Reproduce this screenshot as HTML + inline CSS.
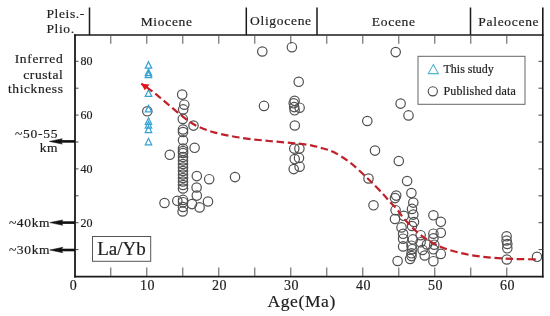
<!DOCTYPE html>
<html><head><meta charset="utf-8"><style>
html,body{margin:0;padding:0;background:#fff;width:550px;height:316px;overflow:hidden}
svg{display:block;filter:blur(0.3px)}
</style></head><body>
<svg width="550" height="316" viewBox="0 0 550 316">
<line x1="89.5" y1="7.5" x2="89.5" y2="35" stroke="#1a1a1a" stroke-width="1.5"/>
<line x1="246.3" y1="7.5" x2="246.3" y2="35" stroke="#1a1a1a" stroke-width="1.5"/>
<line x1="317" y1="7.5" x2="317" y2="35" stroke="#1a1a1a" stroke-width="1.5"/>
<line x1="470.5" y1="7.5" x2="470.5" y2="35" stroke="#1a1a1a" stroke-width="1.5"/>
<line x1="542.8" y1="7.5" x2="542.8" y2="277.5" stroke="#1a1a1a" stroke-width="1.6"/>
<line x1="74" y1="35" x2="543.6" y2="35" stroke="#1a1a1a" stroke-width="1.7"/>
<line x1="75" y1="34.2" x2="75" y2="277.5" stroke="#1a1a1a" stroke-width="1.8"/>
<line x1="74.1" y1="276.6" x2="543.6" y2="276.6" stroke="#1a1a1a" stroke-width="1.9"/>
<line x1="110.8" y1="35.5" x2="110.8" y2="43.8" stroke="#555" stroke-width="1"/>
<line x1="110.8" y1="267.5" x2="110.8" y2="276" stroke="#555" stroke-width="1"/>
<line x1="146.8" y1="35.5" x2="146.8" y2="43.8" stroke="#555" stroke-width="1"/>
<line x1="146.8" y1="267.5" x2="146.8" y2="276" stroke="#555" stroke-width="1"/>
<line x1="182.8" y1="35.5" x2="182.8" y2="43.8" stroke="#555" stroke-width="1"/>
<line x1="182.8" y1="267.5" x2="182.8" y2="276" stroke="#555" stroke-width="1"/>
<line x1="218.8" y1="35.5" x2="218.8" y2="43.8" stroke="#555" stroke-width="1"/>
<line x1="218.8" y1="267.5" x2="218.8" y2="276" stroke="#555" stroke-width="1"/>
<line x1="254.8" y1="35.5" x2="254.8" y2="43.8" stroke="#555" stroke-width="1"/>
<line x1="254.8" y1="267.5" x2="254.8" y2="276" stroke="#555" stroke-width="1"/>
<line x1="290.8" y1="35.5" x2="290.8" y2="43.8" stroke="#555" stroke-width="1"/>
<line x1="290.8" y1="267.5" x2="290.8" y2="276" stroke="#555" stroke-width="1"/>
<line x1="326.8" y1="35.5" x2="326.8" y2="43.8" stroke="#555" stroke-width="1"/>
<line x1="326.8" y1="267.5" x2="326.8" y2="276" stroke="#555" stroke-width="1"/>
<line x1="362.8" y1="35.5" x2="362.8" y2="43.8" stroke="#555" stroke-width="1"/>
<line x1="362.8" y1="267.5" x2="362.8" y2="276" stroke="#555" stroke-width="1"/>
<line x1="398.8" y1="35.5" x2="398.8" y2="43.8" stroke="#555" stroke-width="1"/>
<line x1="398.8" y1="267.5" x2="398.8" y2="276" stroke="#555" stroke-width="1"/>
<line x1="434.8" y1="35.5" x2="434.8" y2="43.8" stroke="#555" stroke-width="1"/>
<line x1="434.8" y1="267.5" x2="434.8" y2="276" stroke="#555" stroke-width="1"/>
<line x1="470.8" y1="35.5" x2="470.8" y2="43.8" stroke="#555" stroke-width="1"/>
<line x1="470.8" y1="267.5" x2="470.8" y2="276" stroke="#555" stroke-width="1"/>
<line x1="506.8" y1="35.5" x2="506.8" y2="43.8" stroke="#555" stroke-width="1"/>
<line x1="506.8" y1="267.5" x2="506.8" y2="276" stroke="#555" stroke-width="1"/>
<line x1="75.5" y1="249.6" x2="78.5" y2="249.6" stroke="#333" stroke-width="0.9"/>
<line x1="538.5" y1="249.6" x2="542" y2="249.6" stroke="#333" stroke-width="0.9"/>
<line x1="75.5" y1="222.7" x2="78.5" y2="222.7" stroke="#333" stroke-width="0.9"/>
<line x1="538.5" y1="222.7" x2="542" y2="222.7" stroke="#333" stroke-width="0.9"/>
<line x1="75.5" y1="195.8" x2="78.5" y2="195.8" stroke="#333" stroke-width="0.9"/>
<line x1="538.5" y1="195.8" x2="542" y2="195.8" stroke="#333" stroke-width="0.9"/>
<line x1="75.5" y1="168.9" x2="78.5" y2="168.9" stroke="#333" stroke-width="0.9"/>
<line x1="538.5" y1="168.9" x2="542" y2="168.9" stroke="#333" stroke-width="0.9"/>
<line x1="75.5" y1="142.0" x2="78.5" y2="142.0" stroke="#333" stroke-width="0.9"/>
<line x1="538.5" y1="142.0" x2="542" y2="142.0" stroke="#333" stroke-width="0.9"/>
<line x1="75.5" y1="115.1" x2="78.5" y2="115.1" stroke="#333" stroke-width="0.9"/>
<line x1="538.5" y1="115.1" x2="542" y2="115.1" stroke="#333" stroke-width="0.9"/>
<line x1="75.5" y1="88.2" x2="78.5" y2="88.2" stroke="#333" stroke-width="0.9"/>
<line x1="538.5" y1="88.2" x2="542" y2="88.2" stroke="#333" stroke-width="0.9"/>
<line x1="75.5" y1="61.3" x2="78.5" y2="61.3" stroke="#333" stroke-width="0.9"/>
<line x1="538.5" y1="61.3" x2="542" y2="61.3" stroke="#333" stroke-width="0.9"/>
<text x="46.5" y="18.2" font-family="Liberation Serif, serif" fill="#1e1e1e" stroke="#1e1e1e" stroke-width="0.2" font-size="13.5" letter-spacing="0.6">Pleis.-</text>
<text x="46.5" y="32.9" font-family="Liberation Serif, serif" fill="#1e1e1e" stroke="#1e1e1e" stroke-width="0.2" font-size="13.5" letter-spacing="0.6">Plio.</text>
<text x="166.7" y="25.9" font-family="Liberation Serif, serif" fill="#1e1e1e" stroke="#1e1e1e" stroke-width="0.2" font-size="13.5" letter-spacing="0.7" text-anchor="middle">Miocene</text>
<text x="280.9" y="24.8" font-family="Liberation Serif, serif" fill="#1e1e1e" stroke="#1e1e1e" stroke-width="0.2" font-size="13.5" letter-spacing="0.7" text-anchor="middle">Oligocene</text>
<text x="393.8" y="25.9" font-family="Liberation Serif, serif" fill="#1e1e1e" stroke="#1e1e1e" stroke-width="0.2" font-size="13.5" letter-spacing="0.7" text-anchor="middle">Eocene</text>
<text x="508.8" y="25.9" font-family="Liberation Serif, serif" fill="#1e1e1e" stroke="#1e1e1e" stroke-width="0.2" font-size="13.5" letter-spacing="0.7" text-anchor="middle">Paleocene</text>
<text x="63.4" y="63" font-family="Liberation Serif, serif" fill="#1e1e1e" stroke="#1e1e1e" stroke-width="0.2" font-size="13.5" letter-spacing="0.65" text-anchor="end">Inferred</text>
<text x="63.4" y="78.5" font-family="Liberation Serif, serif" fill="#1e1e1e" stroke="#1e1e1e" stroke-width="0.2" font-size="13.5" letter-spacing="0.6" text-anchor="end">crustal</text>
<text x="63.6" y="92.7" font-family="Liberation Serif, serif" fill="#1e1e1e" stroke="#1e1e1e" stroke-width="0.2" font-size="13.5" letter-spacing="0.6" text-anchor="end">thickness</text>
<text x="58.2" y="137.8" font-family="Liberation Serif, serif" fill="#1e1e1e" stroke="#1e1e1e" stroke-width="0.2" font-size="13.5" letter-spacing="0.75" text-anchor="end">~50-55</text>
<text x="58" y="151.8" font-family="Liberation Serif, serif" fill="#1e1e1e" stroke="#1e1e1e" stroke-width="0.2" font-size="13.5" letter-spacing="0.5" text-anchor="end">km</text>
<text x="50.2" y="226.7" font-family="Liberation Serif, serif" fill="#1e1e1e" stroke="#1e1e1e" stroke-width="0.2" font-size="13.5" letter-spacing="0.65" text-anchor="end">~40km</text>
<text x="50.2" y="254.4" font-family="Liberation Serif, serif" fill="#1e1e1e" stroke="#1e1e1e" stroke-width="0.2" font-size="13.5" letter-spacing="0.65" text-anchor="end">~30km</text>
<text x="80.5" y="226.5" font-family="Liberation Serif, serif" fill="#1e1e1e" stroke="#1e1e1e" stroke-width="0.2" font-size="12">20</text>
<text x="80.5" y="172.7" font-family="Liberation Serif, serif" fill="#1e1e1e" stroke="#1e1e1e" stroke-width="0.2" font-size="12">40</text>
<text x="80.5" y="118.9" font-family="Liberation Serif, serif" fill="#1e1e1e" stroke="#1e1e1e" stroke-width="0.2" font-size="12">60</text>
<text x="80.5" y="65.1" font-family="Liberation Serif, serif" fill="#1e1e1e" stroke="#1e1e1e" stroke-width="0.2" font-size="12">80</text>
<text x="73.4" y="289.6" font-family="Liberation Serif, serif" fill="#1e1e1e" stroke="#1e1e1e" stroke-width="0.2" font-size="14" letter-spacing="0.3" text-anchor="middle">0</text>
<text x="147.4" y="289.6" font-family="Liberation Serif, serif" fill="#1e1e1e" stroke="#1e1e1e" stroke-width="0.2" font-size="14" letter-spacing="0.3" text-anchor="middle">10</text>
<text x="219.4" y="289.6" font-family="Liberation Serif, serif" fill="#1e1e1e" stroke="#1e1e1e" stroke-width="0.2" font-size="14" letter-spacing="0.3" text-anchor="middle">20</text>
<text x="291.4" y="289.6" font-family="Liberation Serif, serif" fill="#1e1e1e" stroke="#1e1e1e" stroke-width="0.2" font-size="14" letter-spacing="0.3" text-anchor="middle">30</text>
<text x="363.4" y="289.6" font-family="Liberation Serif, serif" fill="#1e1e1e" stroke="#1e1e1e" stroke-width="0.2" font-size="14" letter-spacing="0.3" text-anchor="middle">40</text>
<text x="435.4" y="289.6" font-family="Liberation Serif, serif" fill="#1e1e1e" stroke="#1e1e1e" stroke-width="0.2" font-size="14" letter-spacing="0.3" text-anchor="middle">50</text>
<text x="507.4" y="289.6" font-family="Liberation Serif, serif" fill="#1e1e1e" stroke="#1e1e1e" stroke-width="0.2" font-size="14" letter-spacing="0.3" text-anchor="middle">60</text>
<text x="301.7" y="306.6" font-family="Liberation Serif, serif" fill="#1e1e1e" stroke="#1e1e1e" stroke-width="0.2" font-size="17.5" letter-spacing="0.6" text-anchor="middle">Age(Ma)</text>
<line x1="59.3" y1="141.4" x2="75" y2="141.4" stroke="#111" stroke-width="2.6"/><path d="M49.3,141.4 L62.3,138.70000000000002 L60.599999999999994,141.4 L62.3,144.1 Z" fill="#111" stroke="#111" stroke-width="0.5" stroke-linejoin="round"/>
<line x1="59.8" y1="222.6" x2="75" y2="222.6" stroke="#111" stroke-width="2.6"/><path d="M49.8,222.6 L62.8,219.9 L61.099999999999994,222.6 L62.8,225.29999999999998 Z" fill="#111" stroke="#111" stroke-width="0.5" stroke-linejoin="round"/>
<line x1="59.8" y1="250.0" x2="75" y2="250.0" stroke="#111" stroke-width="2.6"/><path d="M49.8,250.0 L62.8,247.3 L61.099999999999994,250.0 L62.8,252.7 Z" fill="#111" stroke="#111" stroke-width="0.5" stroke-linejoin="round"/>
<rect x="92.5" y="236.5" width="58.2" height="24.8" fill="#fff" stroke="#555" stroke-width="1"/>
<text x="121.5" y="254.8" font-family="Liberation Serif, serif" fill="#1e1e1e" stroke="#1e1e1e" stroke-width="0.2" font-size="19" text-anchor="middle">La/Yb</text>
<rect x="418" y="56.3" width="107" height="48" fill="#fff" stroke="#666" stroke-width="1"/>
<path d="M433.3,64.6 L438.3,73.6 L428.3,73.6 Z" fill="none" stroke="#4fb3c9" stroke-width="1.1"/>
<circle cx="432.8" cy="91.3" r="4.6" fill="none" stroke="#444" stroke-width="1.1"/>
<text x="443.5" y="72.7" font-family="Liberation Serif, serif" fill="#1e1e1e" stroke="#1e1e1e" stroke-width="0.2" font-size="12" letter-spacing="0">This study</text>
<text x="443.5" y="95.1" font-family="Liberation Serif, serif" fill="#1e1e1e" stroke="#1e1e1e" stroke-width="0.2" font-size="12" letter-spacing="0.15">Published data</text>
<circle cx="147.3" cy="111.3" r="4.7" fill="none" stroke="#505050" stroke-width="1.2"/>
<circle cx="182.2" cy="94.6" r="4.7" fill="none" stroke="#505050" stroke-width="1.2"/>
<circle cx="184.3" cy="104.7" r="4.7" fill="none" stroke="#505050" stroke-width="1.2"/>
<circle cx="183.2" cy="109.4" r="4.7" fill="none" stroke="#505050" stroke-width="1.2"/>
<circle cx="182.8" cy="118.9" r="4.7" fill="none" stroke="#505050" stroke-width="1.2"/>
<circle cx="193.5" cy="125.6" r="4.7" fill="none" stroke="#505050" stroke-width="1.2"/>
<circle cx="183.0" cy="129.5" r="4.7" fill="none" stroke="#505050" stroke-width="1.2"/>
<circle cx="183.0" cy="132.0" r="4.7" fill="none" stroke="#505050" stroke-width="1.2"/>
<circle cx="183.0" cy="140.3" r="4.7" fill="none" stroke="#505050" stroke-width="1.2"/>
<circle cx="183.0" cy="148.5" r="4.7" fill="none" stroke="#505050" stroke-width="1.2"/>
<circle cx="183.0" cy="151.0" r="4.7" fill="none" stroke="#505050" stroke-width="1.2"/>
<circle cx="183.0" cy="153.0" r="4.7" fill="none" stroke="#505050" stroke-width="1.2"/>
<circle cx="183.0" cy="157.0" r="4.7" fill="none" stroke="#505050" stroke-width="1.2"/>
<circle cx="183.0" cy="160.5" r="4.7" fill="none" stroke="#505050" stroke-width="1.2"/>
<circle cx="183.0" cy="164.0" r="4.7" fill="none" stroke="#505050" stroke-width="1.2"/>
<circle cx="183.0" cy="167.5" r="4.7" fill="none" stroke="#505050" stroke-width="1.2"/>
<circle cx="183.0" cy="171.0" r="4.7" fill="none" stroke="#505050" stroke-width="1.2"/>
<circle cx="183.0" cy="174.5" r="4.7" fill="none" stroke="#505050" stroke-width="1.2"/>
<circle cx="183.0" cy="178.0" r="4.7" fill="none" stroke="#505050" stroke-width="1.2"/>
<circle cx="183.0" cy="181.5" r="4.7" fill="none" stroke="#505050" stroke-width="1.2"/>
<circle cx="183.0" cy="185.0" r="4.7" fill="none" stroke="#505050" stroke-width="1.2"/>
<circle cx="183.0" cy="188.5" r="4.7" fill="none" stroke="#505050" stroke-width="1.2"/>
<circle cx="194.6" cy="147.8" r="4.7" fill="none" stroke="#505050" stroke-width="1.2"/>
<circle cx="169.8" cy="154.8" r="4.7" fill="none" stroke="#505050" stroke-width="1.2"/>
<circle cx="164.5" cy="203.0" r="4.7" fill="none" stroke="#505050" stroke-width="1.2"/>
<circle cx="177.3" cy="200.8" r="4.7" fill="none" stroke="#505050" stroke-width="1.2"/>
<circle cx="183.0" cy="199.9" r="4.7" fill="none" stroke="#505050" stroke-width="1.2"/>
<circle cx="183.0" cy="202.2" r="4.7" fill="none" stroke="#505050" stroke-width="1.2"/>
<circle cx="183.0" cy="207.0" r="4.7" fill="none" stroke="#505050" stroke-width="1.2"/>
<circle cx="182.6" cy="211.5" r="4.7" fill="none" stroke="#505050" stroke-width="1.2"/>
<circle cx="192.0" cy="204.1" r="4.7" fill="none" stroke="#505050" stroke-width="1.2"/>
<circle cx="196.8" cy="195.6" r="4.7" fill="none" stroke="#505050" stroke-width="1.2"/>
<circle cx="196.6" cy="187.5" r="4.7" fill="none" stroke="#505050" stroke-width="1.2"/>
<circle cx="196.8" cy="176.1" r="4.7" fill="none" stroke="#505050" stroke-width="1.2"/>
<circle cx="209.2" cy="179.2" r="4.7" fill="none" stroke="#505050" stroke-width="1.2"/>
<circle cx="199.6" cy="207.4" r="4.7" fill="none" stroke="#505050" stroke-width="1.2"/>
<circle cx="208.0" cy="201.5" r="4.7" fill="none" stroke="#505050" stroke-width="1.2"/>
<circle cx="235.0" cy="177.1" r="4.7" fill="none" stroke="#505050" stroke-width="1.2"/>
<circle cx="262.3" cy="51.5" r="4.7" fill="none" stroke="#505050" stroke-width="1.2"/>
<circle cx="291.9" cy="47.2" r="4.7" fill="none" stroke="#505050" stroke-width="1.2"/>
<circle cx="298.7" cy="81.8" r="4.7" fill="none" stroke="#505050" stroke-width="1.2"/>
<circle cx="264.0" cy="105.9" r="4.7" fill="none" stroke="#505050" stroke-width="1.2"/>
<circle cx="294.6" cy="100.8" r="4.7" fill="none" stroke="#505050" stroke-width="1.2"/>
<circle cx="293.7" cy="103.3" r="4.7" fill="none" stroke="#505050" stroke-width="1.2"/>
<circle cx="294.2" cy="107.1" r="4.7" fill="none" stroke="#505050" stroke-width="1.2"/>
<circle cx="299.6" cy="107.7" r="4.7" fill="none" stroke="#505050" stroke-width="1.2"/>
<circle cx="294.6" cy="110.3" r="4.7" fill="none" stroke="#505050" stroke-width="1.2"/>
<circle cx="294.8" cy="125.5" r="4.7" fill="none" stroke="#505050" stroke-width="1.2"/>
<circle cx="294.3" cy="148.6" r="4.7" fill="none" stroke="#505050" stroke-width="1.2"/>
<circle cx="299.4" cy="148.6" r="4.7" fill="none" stroke="#505050" stroke-width="1.2"/>
<circle cx="294.7" cy="159.1" r="4.7" fill="none" stroke="#505050" stroke-width="1.2"/>
<circle cx="299.0" cy="157.9" r="4.7" fill="none" stroke="#505050" stroke-width="1.2"/>
<circle cx="293.7" cy="169.1" r="4.7" fill="none" stroke="#505050" stroke-width="1.2"/>
<circle cx="299.6" cy="166.7" r="4.7" fill="none" stroke="#505050" stroke-width="1.2"/>
<circle cx="395.7" cy="52.1" r="4.7" fill="none" stroke="#505050" stroke-width="1.2"/>
<circle cx="367.3" cy="121.0" r="4.7" fill="none" stroke="#505050" stroke-width="1.2"/>
<circle cx="400.6" cy="103.6" r="4.7" fill="none" stroke="#505050" stroke-width="1.2"/>
<circle cx="408.5" cy="115.4" r="4.7" fill="none" stroke="#505050" stroke-width="1.2"/>
<circle cx="375.0" cy="150.6" r="4.7" fill="none" stroke="#505050" stroke-width="1.2"/>
<circle cx="398.8" cy="161.0" r="4.7" fill="none" stroke="#505050" stroke-width="1.2"/>
<circle cx="368.5" cy="178.5" r="4.7" fill="none" stroke="#505050" stroke-width="1.2"/>
<circle cx="407.1" cy="181.0" r="4.7" fill="none" stroke="#505050" stroke-width="1.2"/>
<circle cx="373.5" cy="205.3" r="4.7" fill="none" stroke="#505050" stroke-width="1.2"/>
<circle cx="396.2" cy="195.6" r="4.7" fill="none" stroke="#505050" stroke-width="1.2"/>
<circle cx="395.0" cy="198.1" r="4.7" fill="none" stroke="#505050" stroke-width="1.2"/>
<circle cx="411.4" cy="193.1" r="4.7" fill="none" stroke="#505050" stroke-width="1.2"/>
<circle cx="413.3" cy="202.6" r="4.7" fill="none" stroke="#505050" stroke-width="1.2"/>
<circle cx="412.0" cy="208.9" r="4.7" fill="none" stroke="#505050" stroke-width="1.2"/>
<circle cx="413.3" cy="214.6" r="4.7" fill="none" stroke="#505050" stroke-width="1.2"/>
<circle cx="414.0" cy="222.0" r="4.7" fill="none" stroke="#505050" stroke-width="1.2"/>
<circle cx="395.6" cy="210.2" r="4.7" fill="none" stroke="#505050" stroke-width="1.2"/>
<circle cx="395.0" cy="219.0" r="4.7" fill="none" stroke="#505050" stroke-width="1.2"/>
<circle cx="403.8" cy="215.8" r="4.7" fill="none" stroke="#505050" stroke-width="1.2"/>
<circle cx="401.5" cy="227.4" r="4.7" fill="none" stroke="#505050" stroke-width="1.2"/>
<circle cx="403.1" cy="233.8" r="4.7" fill="none" stroke="#505050" stroke-width="1.2"/>
<circle cx="403.1" cy="238.7" r="4.7" fill="none" stroke="#505050" stroke-width="1.2"/>
<circle cx="403.1" cy="246.4" r="4.7" fill="none" stroke="#505050" stroke-width="1.2"/>
<circle cx="411.5" cy="245.7" r="4.7" fill="none" stroke="#505050" stroke-width="1.2"/>
<circle cx="412.2" cy="249.2" r="4.7" fill="none" stroke="#505050" stroke-width="1.2"/>
<circle cx="411.5" cy="253.3" r="4.7" fill="none" stroke="#505050" stroke-width="1.2"/>
<circle cx="411.5" cy="256.1" r="4.7" fill="none" stroke="#505050" stroke-width="1.2"/>
<circle cx="410.1" cy="258.9" r="4.7" fill="none" stroke="#505050" stroke-width="1.2"/>
<circle cx="412.9" cy="239.4" r="4.7" fill="none" stroke="#505050" stroke-width="1.2"/>
<circle cx="420.6" cy="235.2" r="4.7" fill="none" stroke="#505050" stroke-width="1.2"/>
<circle cx="420.6" cy="242.2" r="4.7" fill="none" stroke="#505050" stroke-width="1.2"/>
<circle cx="422.6" cy="249.9" r="4.7" fill="none" stroke="#505050" stroke-width="1.2"/>
<circle cx="424.7" cy="255.5" r="4.7" fill="none" stroke="#505050" stroke-width="1.2"/>
<circle cx="397.6" cy="261.0" r="4.7" fill="none" stroke="#505050" stroke-width="1.2"/>
<circle cx="412.0" cy="226.0" r="4.7" fill="none" stroke="#505050" stroke-width="1.2"/>
<circle cx="433.4" cy="215.3" r="4.7" fill="none" stroke="#505050" stroke-width="1.2"/>
<circle cx="440.8" cy="221.8" r="4.7" fill="none" stroke="#505050" stroke-width="1.2"/>
<circle cx="440.8" cy="232.8" r="4.7" fill="none" stroke="#505050" stroke-width="1.2"/>
<circle cx="433.4" cy="233.7" r="4.7" fill="none" stroke="#505050" stroke-width="1.2"/>
<circle cx="433.4" cy="238.3" r="4.7" fill="none" stroke="#505050" stroke-width="1.2"/>
<circle cx="434.3" cy="244.7" r="4.7" fill="none" stroke="#505050" stroke-width="1.2"/>
<circle cx="433.4" cy="249.3" r="4.7" fill="none" stroke="#505050" stroke-width="1.2"/>
<circle cx="440.8" cy="253.9" r="4.7" fill="none" stroke="#505050" stroke-width="1.2"/>
<circle cx="433.4" cy="261.2" r="4.7" fill="none" stroke="#505050" stroke-width="1.2"/>
<circle cx="427.0" cy="244.5" r="4.7" fill="none" stroke="#505050" stroke-width="1.2"/>
<circle cx="506.6" cy="236.3" r="4.7" fill="none" stroke="#505050" stroke-width="1.2"/>
<circle cx="506.6" cy="240.5" r="4.7" fill="none" stroke="#505050" stroke-width="1.2"/>
<circle cx="507.3" cy="244.0" r="4.7" fill="none" stroke="#505050" stroke-width="1.2"/>
<circle cx="507.3" cy="248.3" r="4.7" fill="none" stroke="#505050" stroke-width="1.2"/>
<circle cx="506.8" cy="259.5" r="4.7" fill="none" stroke="#505050" stroke-width="1.2"/>
<circle cx="537.0" cy="256.8" r="4.7" fill="none" stroke="#505050" stroke-width="1.2"/>
<path d="M148.5,61.7 L151.7,68.2 L145.3,68.2 Z" fill="none" stroke="#34a3d3" stroke-width="1.25" stroke-linejoin="miter"/>
<path d="M148.5,69.0 L151.7,75.5 L145.3,75.5 Z" fill="none" stroke="#34a3d3" stroke-width="1.25" stroke-linejoin="miter"/>
<path d="M148.5,71.2 L151.7,77.7 L145.3,77.7 Z" fill="none" stroke="#34a3d3" stroke-width="1.25" stroke-linejoin="miter"/>
<path d="M148.5,89.8 L151.7,96.3 L145.3,96.3 Z" fill="none" stroke="#34a3d3" stroke-width="1.25" stroke-linejoin="miter"/>
<path d="M148.5,105.4 L151.7,111.9 L145.3,111.9 Z" fill="none" stroke="#34a3d3" stroke-width="1.25" stroke-linejoin="miter"/>
<path d="M148.5,117.8 L151.7,124.3 L145.3,124.3 Z" fill="none" stroke="#34a3d3" stroke-width="1.25" stroke-linejoin="miter"/>
<path d="M148.5,121.5 L151.7,128.0 L145.3,128.0 Z" fill="none" stroke="#34a3d3" stroke-width="1.25" stroke-linejoin="miter"/>
<path d="M148.5,126.0 L151.7,132.5 L145.3,132.5 Z" fill="none" stroke="#34a3d3" stroke-width="1.25" stroke-linejoin="miter"/>
<path d="M148.5,138.3 L151.7,144.8 L145.3,144.8 Z" fill="none" stroke="#34a3d3" stroke-width="1.25" stroke-linejoin="miter"/>
<path d="M141.3,83.6 C142.9,84.7 147.8,88.1 150.6,90.1 C153.4,92.1 155.4,93.7 158.0,95.8 C160.6,97.9 163.0,100.0 166.0,102.6 C169.0,105.1 172.6,108.2 176.1,111.1 C179.6,114.0 183.5,117.4 187.2,120.0 C190.9,122.6 193.7,124.5 198.3,126.6 C202.9,128.7 207.7,130.7 214.9,132.6 C222.1,134.5 232.3,136.4 241.3,137.8 C250.3,139.2 260.1,140.1 269.1,141.0 C278.1,141.9 288.3,142.6 295.3,143.3 C302.3,144.0 306.6,144.5 311.0,145.3 C315.4,146.1 318.3,147.1 322.0,148.2 C325.7,149.3 328.4,149.4 333.1,151.8 C337.9,154.2 344.7,158.4 350.5,162.9 C356.3,167.4 362.7,173.7 368.0,178.8 C373.3,183.9 378.8,189.5 382.5,193.4 C386.2,197.3 387.6,199.3 390.0,202.0 C392.4,204.7 394.8,206.7 397.1,209.5 C399.5,212.3 400.6,214.9 404.1,218.8 C407.6,222.7 413.5,229.0 418.2,233.0 C422.9,237.0 427.6,239.9 432.3,242.6 C437.0,245.3 440.3,247.1 446.4,249.1 C452.5,251.1 461.4,253.4 468.9,254.8 C476.4,256.2 484.0,256.9 491.5,257.6 C499.0,258.3 506.5,258.7 514.0,259.0 C521.5,259.3 532.8,259.2 536.6,259.3" fill="none" stroke="#c0202a" stroke-width="2.2" stroke-dasharray="7.5 3.7" stroke-dashoffset="-6"/>
<path d="M141.1,83.7 L149.6,84.6 L144.8,90.2 Z" fill="#e3121b"/>
</svg>
</body></html>
